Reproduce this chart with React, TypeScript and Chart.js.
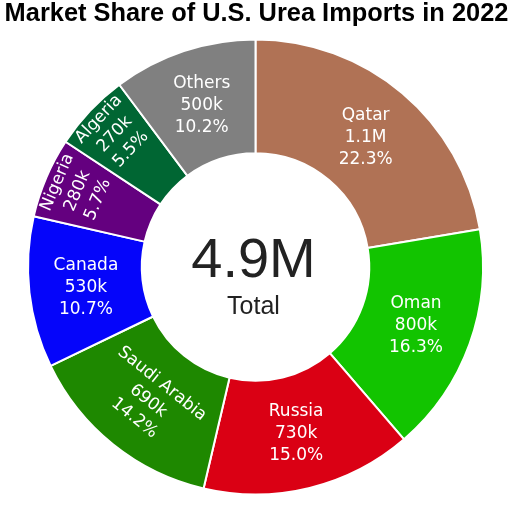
import React, { useEffect, useRef } from "react";
import { Chart, ArcElement, DoughnutController } from "chart.js";

Chart.register(ArcElement, DoughnutController);

const titleText = "Market Share of U.S. Urea Imports in 2022";
const centerCaption = "Total";
const categories = ["Qatar", "Oman", "Russia", "Saudi Arabia", "Canada", "Nigeria", "Algeria", "Others"];
const imports = [1094000, 800000, 734000, 694000, 526000, 279000, 270000, 500000];
const sliceColors = ["#B07255", "#12C400", "#DA0014", "#1E8800", "#0505FA", "#64007F", "#006633", "#808080"];

const LABEL_SIZE = 17;
const LINE_H = 22;
const LABEL_FONT = `${LABEL_SIZE}px "DejaVu Sans", Verdana, sans-serif`;

function fmtValue(v: number): string {
  if (v >= 1e6) return (v / 1e6).toFixed(1) + "M";
  return Math.round(v / 1e4) * 10 + "k";
}

function normAngle(a: number): number {
  const t = Math.PI * 2;
  return ((a % t) + t) % t;
}

const labelPlugin = {
  id: "sliceLabels",
  afterDatasetsDraw(chart: any) {
    const ctx = chart.ctx as CanvasRenderingContext2D;
    const meta = chart.getDatasetMeta(0);
    const data = chart.data.datasets[0].data as number[];
    const total = data.reduce((s, v) => s + v, 0);
    ctx.save();
    ctx.font = LABEL_FONT;
    meta.data.forEach((arc: any, i: number) => {
      const p = arc.getProps(["x", "y", "startAngle", "endAngle", "innerRadius", "outerRadius"], true);
      const lines = [categories[i], fmtValue(data[i]), ((data[i] / total) * 100).toFixed(1) + "%"];
      const w = Math.max(...lines.map((l) => ctx.measureText(l).width));
      const h = (lines.length - 1) * LINE_H + LABEL_SIZE;
      const mid = (p.startAngle + p.endAngle) / 2;
      const span = p.endAngle - p.startAngle;
      const rMid = (p.innerRadius + p.outerRadius) / 2;
      const pad = 2;
      const fits = (r: number, rot: number) => {
        const cx = p.x + r * Math.cos(mid);
        const cy = p.y + r * Math.sin(mid);
        for (const sx of [-w / 2, w / 2]) {
          for (const sy of [-h / 2, h / 2]) {
            const px = cx + sx * Math.cos(rot) - sy * Math.sin(rot);
            const py = cy + sx * Math.sin(rot) + sy * Math.cos(rot);
            const d = Math.hypot(px - p.x, py - p.y);
            if (d < p.innerRadius + pad || d > p.outerRadius - pad) return false;
            const rel = normAngle(Math.atan2(py - p.y, px - p.x) - p.startAngle);
            if (rel > span) return false;
            if (rel * d < pad || (span - rel) * d < pad) return false;
          }
        }
        return true;
      };
      let r = rMid;
      let rot = 0;
      if (!fits(rMid, 0)) {
        rot = mid + Math.PI / 2;
        rot = Math.atan2(Math.sin(rot), Math.cos(rot));
        if (rot > Math.PI / 2) rot -= Math.PI;
        if (rot < -Math.PI / 2) rot += Math.PI;
        const rMax = p.outerRadius - h / 2 - 2.5;
        let found = -1;
        for (let rr = rMid; rr <= rMax; rr += 0.5) {
          if (fits(rr, rot)) {
            found = rr;
            break;
          }
        }
        r = found > 0 ? found : rMax;
      }
      const cx = p.x + r * Math.cos(mid);
      const cy = p.y + r * Math.sin(mid);
      ctx.save();
      ctx.translate(cx, cy);
      ctx.rotate(rot);
      ctx.fillStyle = "#FFFFFF";
      ctx.textAlign = "center";
      ctx.textBaseline = "middle";
      lines.forEach((l, k) => {
        ctx.fillText(l, 0, (k - (lines.length - 1) / 2) * LINE_H + 1);
      });
      ctx.restore();
    });
    ctx.restore();
  },
  afterDraw(chart: any) {
    const ctx = chart.ctx as CanvasRenderingContext2D;
    const meta = chart.getDatasetMeta(0);
    const arc = meta.data[0];
    if (!arc) return;
    const { x, y } = arc.getProps(["x", "y"], true);
    const data = chart.data.datasets[0].data as number[];
    const total = data.reduce((s, v) => s + v, 0);
    ctx.save();
    ctx.textAlign = "center";
    ctx.textBaseline = "alphabetic";
    ctx.fillStyle = "#000000";
    ctx.font = `bold 25.4px "Liberation Sans", Arial, sans-serif`;
    ctx.fillText(titleText, chart.width / 2, 21);
    ctx.fillStyle = "#222222";
    ctx.font = `56px "Liberation Sans", Arial, sans-serif`;
    ctx.fillText(fmtValue(total), x - 2, y + 10);
    ctx.font = `25px "Liberation Sans", Arial, sans-serif`;
    ctx.fillText(centerCaption, x - 2, y + 47);
    ctx.restore();
  },
};

export default function App() {
  const canvasRef = useRef<HTMLCanvasElement | null>(null);
  useEffect(() => {
    document.body.style.margin = "0";
    const canvas = canvasRef.current;
    if (!canvas) return;
    const chart = new Chart(canvas, {
      type: "doughnut",
      data: {
        labels: categories,
        datasets: [
          {
            data: imports,
            backgroundColor: sliceColors,
            borderColor: "#FFFFFF",
            borderWidth: 2,
            hoverOffset: 0,
          },
        ],
      },
      options: {
        responsive: false,
        animation: false,
        cutout: "50%",
        layout: { padding: { top: 38.5, bottom: 9.5, left: 0, right: 2 } },
        plugins: {
          legend: { display: false },
          tooltip: { enabled: false },
          title: { display: false },
        },
        events: [],
      },
      plugins: [labelPlugin],
    });
    return () => chart.destroy();
  }, []);
  return (
    <div style={{ width: 513, height: 505 }}>
      <canvas ref={canvasRef} width={513} height={505} style={{ display: "block" }} />
    </div>
  );
}
